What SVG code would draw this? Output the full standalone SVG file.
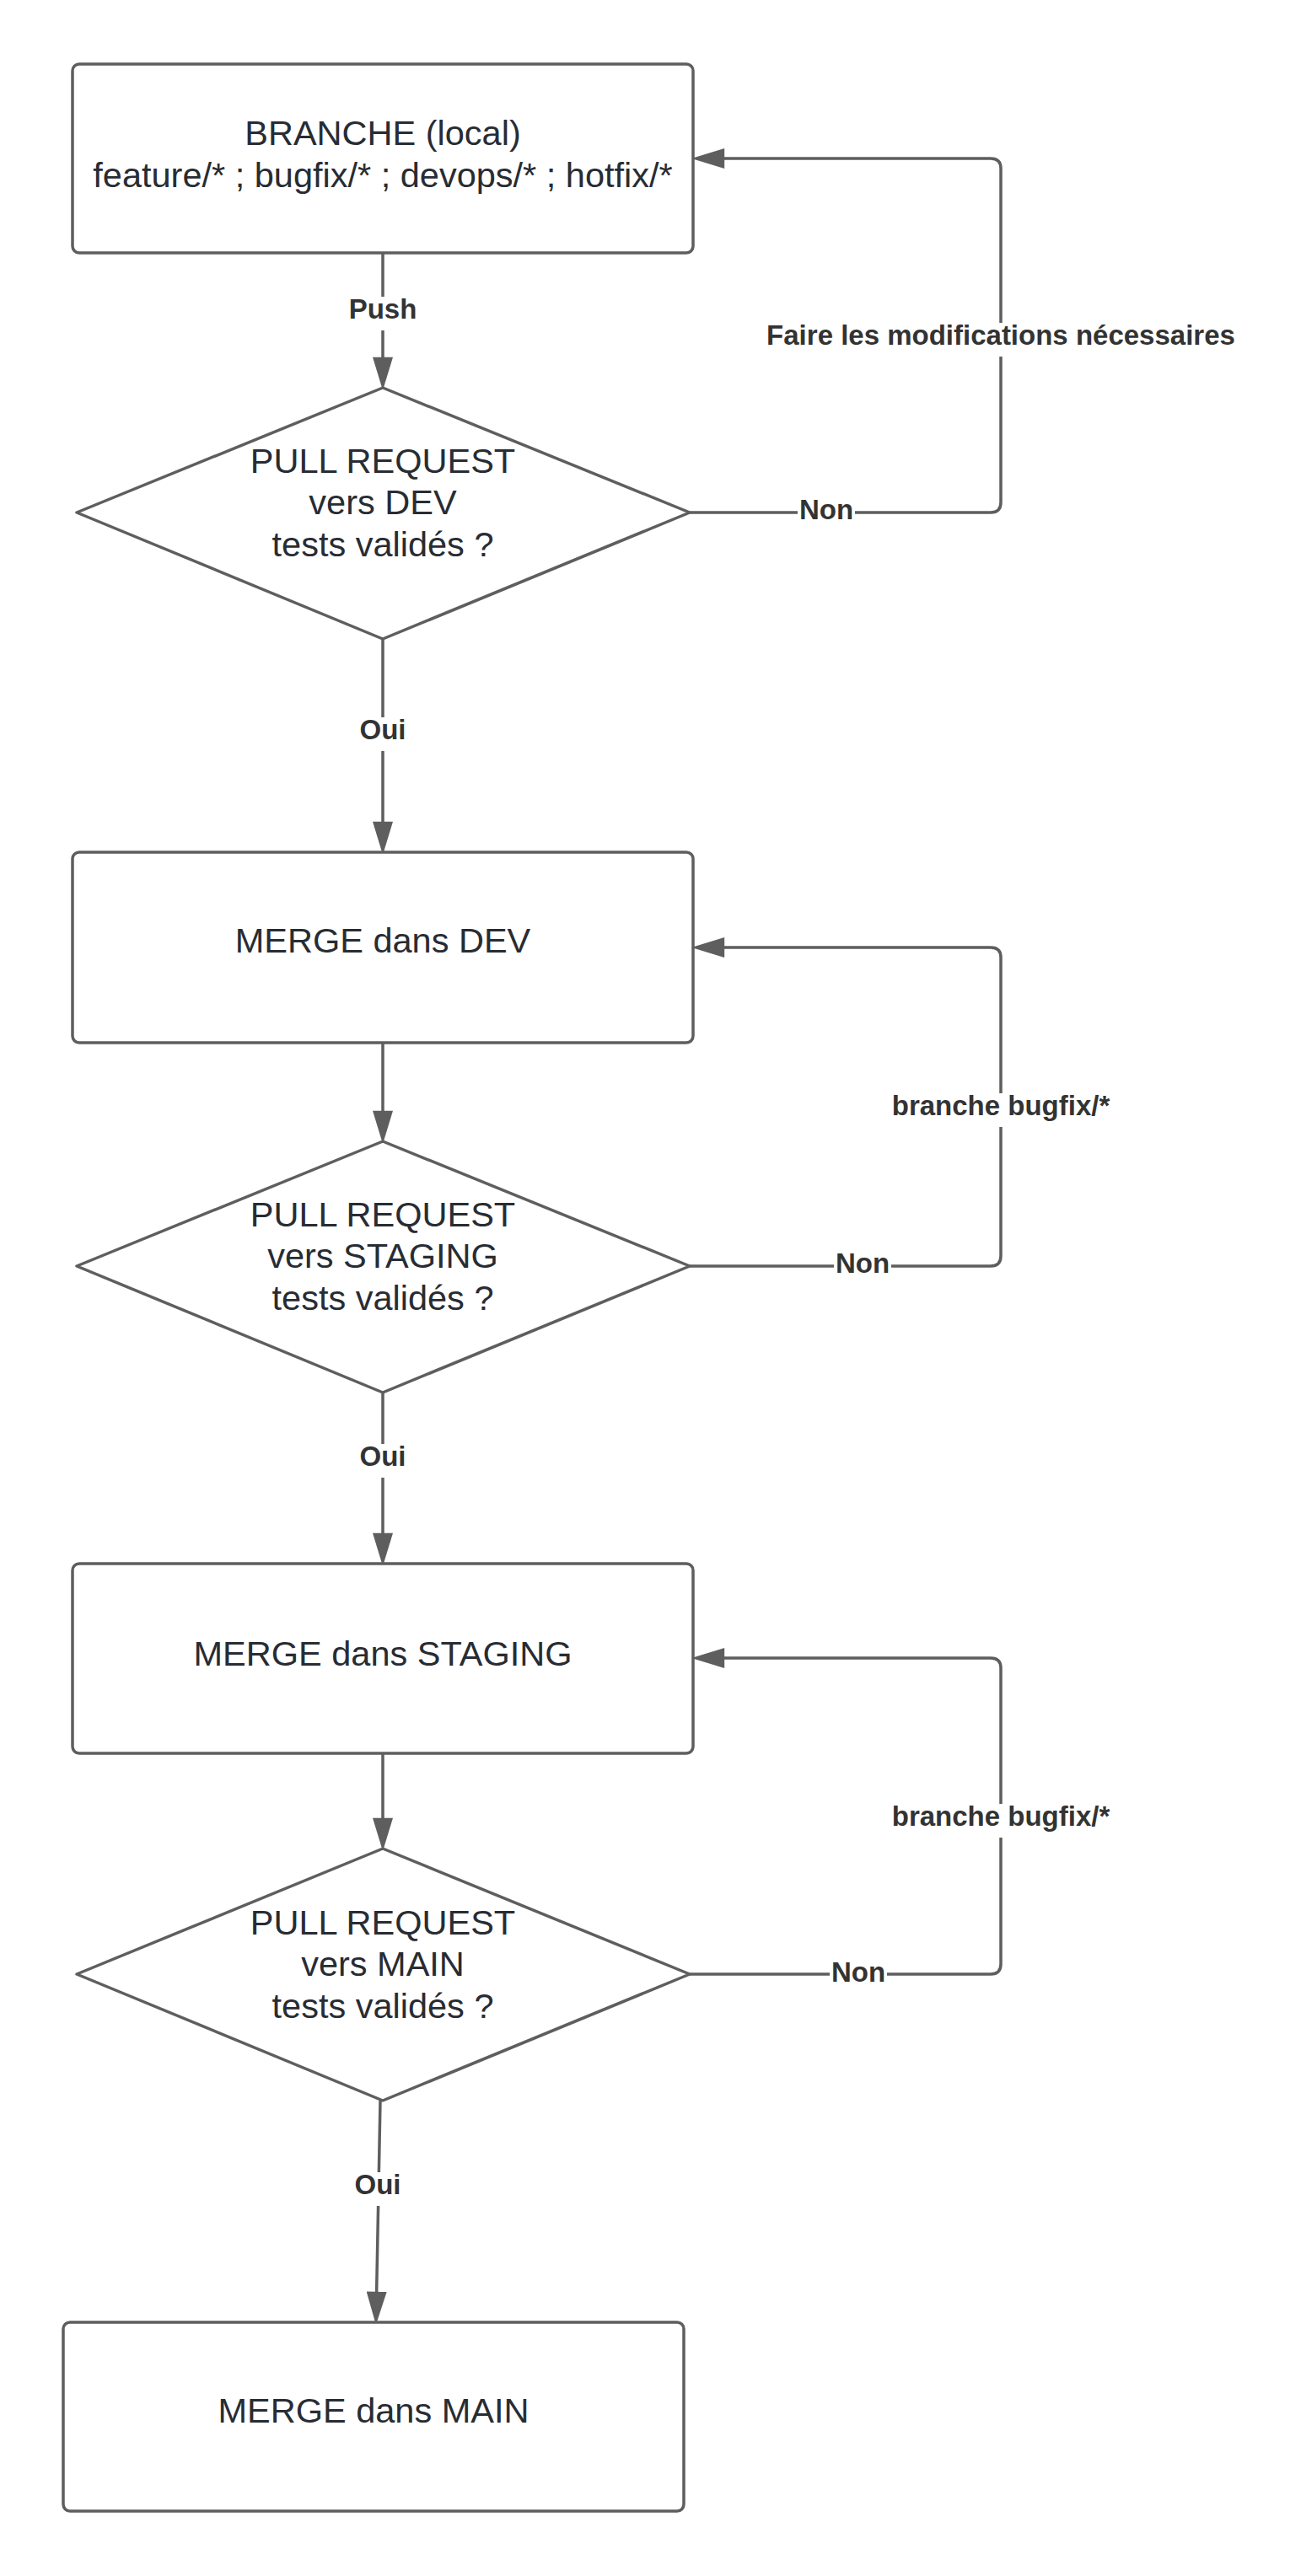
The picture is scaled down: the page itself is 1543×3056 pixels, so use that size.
<svg xmlns="http://www.w3.org/2000/svg" width="1543" height="3056" viewBox="0 0 1543 3056">
<defs>
<marker id="arr" markerUnits="userSpaceOnUse" markerWidth="40" markerHeight="24" refX="2" refY="11" orient="auto" viewBox="0 0 36 22">
<path d="M0,0 L36,11 L0,22 z" fill="#5e5e5e"/>
</marker>
<style>
.box{fill:#fff;stroke:#5e5e5e;stroke-width:3.5}
.dia{fill:#fff;stroke:#5e5e5e;stroke-width:3.5;stroke-linejoin:round}
.t{font-family:"Liberation Sans",Arial,sans-serif;font-size:41.5px;fill:#282c33;text-anchor:middle}
.c{fill:none;stroke:#5e5e5e;stroke-width:3.5}
.bg{fill:#fff}
.l{font-family:"Liberation Sans",Arial,sans-serif;font-size:33px;font-weight:bold;fill:#333;text-anchor:middle}
</style>
</defs>
<rect width="1543" height="3056" fill="#fff"/>
<g id="connectors">
<path class="c" d="M454 300 L454 426" marker-end="url(#arr)"/>
<path class="c" d="M818 608 L1175 608 Q1187 608 1187 596 L1187 200 Q1187 188 1175 188 L857 188" marker-end="url(#arr)"/>
<path class="c" d="M454 758 L454 977" marker-end="url(#arr)"/>
<path class="c" d="M454 1237 L454 1320" marker-end="url(#arr)"/>
<path class="c" d="M818 1502 L1175 1502 Q1187 1502 1187 1490 L1187 1136 Q1187 1124 1175 1124 L857 1124" marker-end="url(#arr)"/>
<path class="c" d="M454 1652 L454 1821" marker-end="url(#arr)"/>
<path class="c" d="M454 2080 L454 2159" marker-end="url(#arr)"/>
<path class="c" d="M818 2342 L1175 2342 Q1187 2342 1187 2330 L1187 1979 Q1187 1967 1175 1967 L857 1967" marker-end="url(#arr)"/>
<path class="c" d="M451 2492 L446.6 2721" marker-end="url(#arr)"/>
<g id="labels">
<rect class="bg" x="410" y="352" width="88" height="40"/>
<text class="l" x="454" y="378">Push</text>
<rect class="bg" x="902" y="383" width="571" height="40"/>
<text class="l" x="1187" y="409">Faire les modifications nécessaires</text>
<rect class="bg" x="946" y="592" width="68" height="32"/>
<text class="l" x="980" y="616">Non</text>
<rect class="bg" x="420" y="851" width="68" height="40"/>
<text class="l" x="454" y="877">Oui</text>
<rect class="bg" x="1055" y="1297" width="264" height="40"/>
<text class="l" x="1187" y="1323">branche bugfix/*</text>
<rect class="bg" x="989" y="1486" width="68" height="32"/>
<text class="l" x="1023" y="1510">Non</text>
<rect class="bg" x="420" y="1713" width="68" height="40"/>
<text class="l" x="454" y="1739">Oui</text>
<rect class="bg" x="1055" y="2140" width="264" height="40"/>
<text class="l" x="1187" y="2166">branche bugfix/*</text>
<rect class="bg" x="984" y="2327" width="68" height="32"/>
<text class="l" x="1018" y="2351">Non</text>
<rect class="bg" x="414" y="2577" width="68" height="40"/>
<text class="l" x="448" y="2603">Oui</text>
</g>
</g>
<g id="n-branche">
<rect class="box" x="86" y="76" width="736" height="224" rx="8"/>
<text class="t" x="454" y="172">BRANCHE (local)</text>
<text class="t" x="454" y="222">feature/* ; bugfix/* ; devops/* ; hotfix/*</text>
</g>
<g id="n-pr-dev">
<polygon class="dia" points="454,460 818,608 454,758 91,608"/>
<text class="t" x="454" y="561">PULL REQUEST</text>
<text class="t" x="454" y="610">vers DEV</text>
<text class="t" x="454" y="660">tests validés ?</text>
</g>
<g id="n-merge-dev">
<rect class="box" x="86" y="1011" width="736" height="226" rx="8"/>
<text class="t" x="454" y="1130">MERGE dans DEV</text>
</g>
<g id="n-pr-staging">
<polygon class="dia" points="454,1354 818,1502 454,1652 91,1502"/>
<text class="t" x="454" y="1455">PULL REQUEST</text>
<text class="t" x="454" y="1504">vers STAGING</text>
<text class="t" x="454" y="1554">tests validés ?</text>
</g>
<g id="n-merge-staging">
<rect class="box" x="86" y="1855" width="736" height="225" rx="8"/>
<text class="t" x="454" y="1976">MERGE dans STAGING</text>
</g>
<g id="n-pr-main">
<polygon class="dia" points="454,2193 818,2342 454,2492 91,2342"/>
<text class="t" x="454" y="2295">PULL REQUEST</text>
<text class="t" x="454" y="2344">vers MAIN</text>
<text class="t" x="454" y="2394">tests validés ?</text>
</g>
<g id="n-merge-main">
<rect class="box" x="75" y="2755" width="736" height="224" rx="8"/>
<text class="t" x="443" y="2874">MERGE dans MAIN</text>
</g>
</svg>
